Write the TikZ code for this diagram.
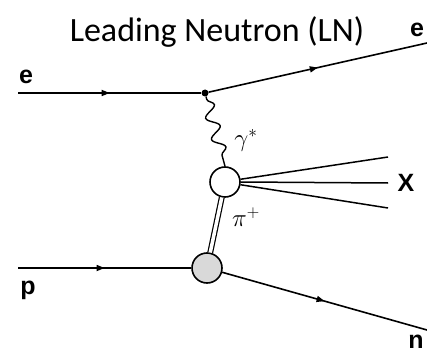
\documentclass[tikz,border=0pt]{standalone}
\usepackage{fontspec}
\setmainfont{Liberation Sans}
\newfontfamily\titlefont{Carlito}
\usetikzlibrary{decorations.pathmorphing,decorations.markings,arrows.meta}

\begin{document}
\begin{tikzpicture}[x=1pt, y=-1pt]
\tikzset{
    fermion/.style={line width=1.6pt, postaction={decorate},
        decoration={markings, mark=at position .5 with {\arrow{Triangle[length=8pt,width=6pt]}}}},
    photon/.style={line width=1.4pt, decorate,
        decoration={snake, segment length=22pt, amplitude=6pt, pre length=3pt, post length=3pt}},
    pion/.style={double, double distance=3.5pt, line width=1.2pt},
    jet/.style={line width=1.5pt},
    blob/.style={circle, draw, line width=1.6pt, minimum size=30pt, inner sep=0pt},
    vertex/.style={circle, fill, minimum size=7pt, inner sep=0pt},
    particle/.style={font=\fontsize{25}{28}\selectfont\bfseries, inner sep=0pt},
    greek/.style={font=\fontsize{24}{26}\selectfont, inner sep=0pt}
}
\useasboundingbox (0,0) rectangle (427,355);

% title
\node[font=\titlefont\fontsize{34}{38}\selectfont] (title) at (217,32) {Leading Neutron (LN)};

% vertices and blobs
\node[vertex] (vtx) at (205,93) {};
\node[blob, fill=white] (hadron) at (225,182) {};
\node[blob, fill=black!15] (target) at (207,268) {};

% free ends
\coordinate (ein) at (18,93);
\coordinate (eout) at (427,43);
\coordinate (pin) at (18,268);
\coordinate (nout) at (427,330);
\coordinate (xup) at (388,157);
\coordinate (xmid) at (388,183);
\coordinate (xlow) at (388,208);

% lines
\draw[fermion] (ein) -- (vtx);
\draw[fermion] (vtx) -- (eout);
\draw[fermion] (pin) -- (target);
\draw[fermion] (target) -- (nout);
\draw[photon] (vtx) -- (hadron.north);
\draw[pion] (target) -- (hadron);
\draw[jet] (hadron.10) -- (xup);
\draw[jet] (hadron.east) -- (xmid);
\draw[jet] (hadron.-10) -- (xlow);

% labels
\node[particle] (lein) at (26,77) {e};
\node[particle] (leout) at (417,30) {e};
\node[particle] (lp) at (28,290) {p};
\node[particle] (ln) at (416,342) {n};
\node[particle] (lx) at (406,183) {X};
\node[greek] (lgam) at (246,140) {$\gamma^{*}$};
\node[greek] (lpi) at (246,217) {$\pi^{+}$};
\end{tikzpicture}
\end{document}
